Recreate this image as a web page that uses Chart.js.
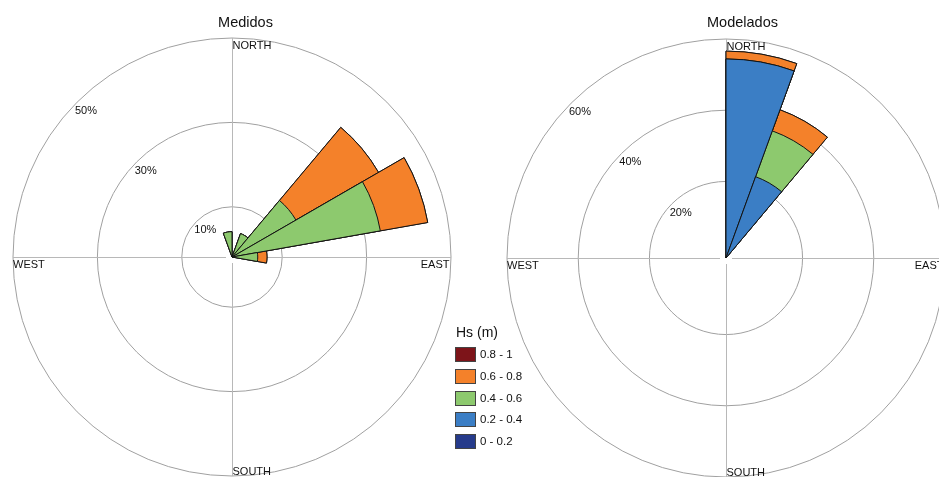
<!DOCTYPE html>
<html>
<head>
<meta charset="utf-8">
<script src="https://cdn.jsdelivr.net/npm/chart.js@4.4.1/dist/chart.umd.min.js"></script>
<style>
  html, body { margin: 0; padding: 0; background: #fff; overflow: hidden; }
  #wrap { position: relative; width: 939px; height: 477px; overflow: hidden;
          font-family: "Liberation Sans", Arial, sans-serif; color: #111; }
  canvas { position: absolute; top: 0; }
  #roseLeft { left: 0; }
  #roseRight { left: 470px; }
  #legend { position: absolute; left: 0; top: 0; }
  .lg-title { position: absolute; left: 456px; top: 325px; font-size: 14px; line-height: 14px; white-space: nowrap; }
  .lg-box { position: absolute; left: 455px; width: 21px; height: 15px; box-sizing: border-box; border: 1px solid #444; }
  .lg-text { position: absolute; left: 480px; font-size: 11.5px; line-height: 15px; white-space: nowrap; }
</style>
</head>
<body>
<div id="wrap">
  <canvas id="roseLeft" width="470" height="477"></canvas>
  <canvas id="roseRight" width="500" height="477"></canvas>
  <div id="legend"></div>
</div>
<script>
// Direction bins of 20 degrees, clockwise from north
const directions = ['0°','20°','40°','60°','80°','100°','120°','140°','160°',
                    '180°','200°','220°','240°','260°','280°','300°','320°','340°'];

// Significant wave height classes (m) and their colours
const hsBands = ['0 - 0.2', '0.2 - 0.4', '0.4 - 0.6', '0.6 - 0.8', '0.8 - 1'];
const bandColors = ['#263b8b', '#3b7ec5', '#8dc96e', '#f4812a', '#7d1419'];

// Medidos: frequency (%) per direction bin for each Hs class
const medidosHs00_02 = [0, 0, 0,    0,    0,   0, 0, 0, 0, 0, 0, 0, 0, 0, 0, 0, 0, 0];
const medidosHs02_04 = [0, 0, 0,    0,    0,   0, 0, 0, 0, 0, 0, 0, 0, 0, 0, 0, 0, 0];
const medidosHs04_06 = [0, 4.0, 15.6, 33.8, 4.2, 0, 0, 0, 0, 0, 0, 0, 0, 0, 0, 0, 0, 4.1];
const medidosHs06_08 = [0, 0, 22.6, 11.4, 2.2, 0, 0, 0, 0, 0, 0, 0, 0, 0, 0, 0, 0, 0];
const medidosHs08_10 = [0, 0, 0,    0,    0,   0, 0, 0, 0, 0, 0, 0, 0, 0, 0, 0, 0, 0];

// Modelados: frequency (%) per direction bin for each Hs class
const modeladosHs00_02 = [0,    0,    0, 0, 0, 0, 0, 0, 0, 0, 0, 0, 0, 0, 0, 0, 0, 0];
const modeladosHs02_04 = [54.4, 22.8, 0, 0, 0, 0, 0, 0, 0, 0, 0, 0, 0, 0, 0, 0, 0, 0];
const modeladosHs04_06 = [0,    13.7, 0, 0, 0, 0, 0, 0, 0, 0, 0, 0, 0, 0, 0, 0, 0, 0];
const modeladosHs06_08 = [2.2,  6.3,  0, 0, 0, 0, 0, 0, 0, 0, 0, 0, 0, 0, 0, 0, 0, 0];
const modeladosHs08_10 = [0,    0,    0, 0, 0, 0, 0, 0, 0, 0, 0, 0, 0, 0, 0, 0, 0, 0];

// Rings with percentage labels
const medidosTicks = [10, 30, 50];
const modeladosTicks = [20, 40, 60];

const compass = ['NORTH', 'EAST', 'SOUTH', 'WEST'];

// Running totals so each class sits on top of the lower ones
function stackBands(bands) {
  const out = [];
  let run = new Array(directions.length).fill(0);
  bands.forEach(b => {
    run = run.map((v, i) => Math.round((v + b[i]) * 100) / 100);
    out.push(run.slice());
  });
  return out;
}

// Axes, centre hole and text drawn around the rose
const roseDecor = {
  id: 'roseDecor',
  beforeDatasetsDraw(chart, args, opts) {
    const s = chart.scales.r, ctx = chart.ctx;
    const cx = s.xCenter, cy = s.yCenter, R = s.drawingArea;
    ctx.save();
    ctx.fillStyle = '#fff';
    ctx.beginPath(); ctx.arc(cx, cy, 6, 0, Math.PI * 2); ctx.fill();
    ctx.strokeStyle = '#b8b8b8';
    ctx.lineWidth = 1;
    ctx.beginPath();
    ctx.moveTo(cx + 0.5, cy - 6); ctx.lineTo(cx + 0.5, cy - R);
    ctx.moveTo(cx + 0.5, cy + 6); ctx.lineTo(cx + 0.5, cy + R);
    ctx.moveTo(cx - 6, cy + 0.5); ctx.lineTo(cx - R, cy + 0.5);
    ctx.moveTo(cx + 6, cy + 0.5); ctx.lineTo(cx + R, cy + 0.5);
    ctx.stroke();
    ctx.restore();
  },
  afterDraw(chart, args, opts) {
    const s = chart.scales.r, ctx = chart.ctx;
    const cx = s.xCenter, cy = s.yCenter, R = s.drawingArea;
    ctx.save();
    ctx.fillStyle = '#111';
    ctx.font = '11px "Liberation Sans", Arial, sans-serif';
    ctx.textBaseline = 'alphabetic';
    ctx.textAlign = 'left';
    ctx.fillText(compass[0], cx + 0.5, cy - R + 10.5);
    ctx.fillText(compass[2], cx + 0.5, cy + R - 1);
    ctx.fillText(compass[3], cx - R, cy + 10.5);
    ctx.textAlign = 'right';
    ctx.fillText(compass[1], cx + R - 1.5, cy + 10.5);
    // percentage labels along the north-west diagonal
    ctx.textAlign = 'center';
    ctx.textBaseline = 'middle';
    opts.ticks.forEach(v => {
      const d = s.getDistanceFromCenterForValue(v) - 12.5;
      ctx.fillText(v + '%', cx - d * Math.SQRT1_2, cy - d * Math.SQRT1_2);
    });
    // panel title
    ctx.font = '14.5px "Liberation Sans", Arial, sans-serif';
    ctx.textBaseline = 'alphabetic';
    ctx.fillText(opts.title, cx + opts.titleShift, 26.5);
    ctx.restore();
  }
};

function buildRose(canvasId, bands, ticks, min, max, padding, title, titleShift) {
  const stacked = stackBands(bands);
  return new Chart(document.getElementById(canvasId), {
    type: 'polarArea',
    data: {
      labels: directions,
      datasets: stacked.map((vals, k) => ({
        label: hsBands[k],
        data: vals,
        backgroundColor: c => (c.raw > 0 ? bandColors[k] : 'rgba(0,0,0,0)'),
        borderColor: '#141414',
        borderWidth: c => (c.raw > 0 ? 1 : 0),
        borderJoinStyle: 'miter'
      }))
    },
    options: {
      responsive: false,
      animation: false,
      layout: { padding },
      plugins: {
        legend: { display: false },
        tooltip: { enabled: false },
        roseDecor: { ticks, title, titleShift }
      },
      scales: {
        r: {
          min, max,
          startAngle: 0,
          afterBuildTicks: sc => {
            sc.ticks = [{ value: min }].concat(ticks.map(v => ({ value: v })));
          },
          ticks: { display: false },
          grid: { display: true, circular: true, color: '#a0a0a0', lineWidth: 1 },
          angleLines: { display: false },
          pointLabels: { display: false }
        }
      }
    },
    plugins: [roseDecor]
  });
}

buildRose('roseLeft',
  [medidosHs00_02, medidosHs02_04, medidosHs04_06, medidosHs06_08, medidosHs08_10],
  medidosTicks, -1.9, 50,
  { left: 13, right: 19, top: 38, bottom: 1 }, 'Medidos', 13.5);

buildRose('roseRight',
  [modeladosHs00_02, modeladosHs02_04, modeladosHs04_06, modeladosHs06_08, modeladosHs08_10],
  modeladosTicks, -1.5, 60,
  { left: 37, right: 25, top: 39, bottom: 0 }, 'Modelados', 16.5);

// Colour key for the Hs classes, largest class first
const legend = document.getElementById('legend');
const head = document.createElement('div');
head.className = 'lg-title';
head.textContent = 'Hs (m)';
legend.appendChild(head);
for (let j = 0; j < hsBands.length; j++) {
  const k = hsBands.length - 1 - j;
  const top = 347.3 + 21.7 * j;
  const box = document.createElement('div');
  box.className = 'lg-box';
  box.style.top = top + 'px';
  box.style.background = bandColors[k];
  legend.appendChild(box);
  const txt = document.createElement('div');
  txt.className = 'lg-text';
  txt.style.top = top + 'px';
  txt.textContent = hsBands[k];
  legend.appendChild(txt);
}
</script>
</body>
</html>
